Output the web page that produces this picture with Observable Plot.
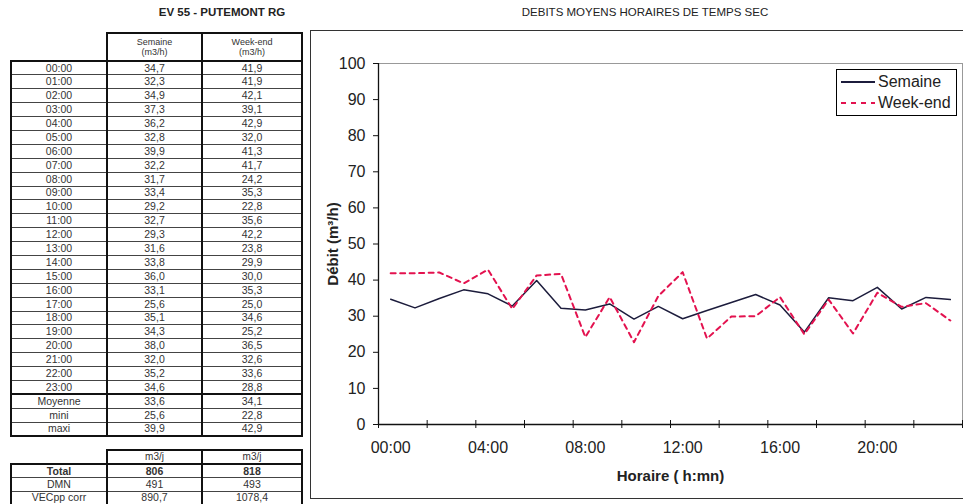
<!DOCTYPE html>
<html>
<head>
<meta charset="utf-8">
<script src="https://cdn.jsdelivr.net/npm/d3@7"></script>
<script src="https://cdn.jsdelivr.net/npm/@observablehq/plot@0.6"></script>
<style>
  html, body { margin: 0; padding: 0; background: #fff; }
  body { width: 963px; height: 504px; position: relative; overflow: hidden; font-family: "Liberation Sans", Arial, sans-serif; color: #222; }
  .title { position: absolute; white-space: nowrap; transform: translateX(-50%); }
  #t1title { left: 222px; top: 6px; font-weight: bold; font-size: 11.5px; }
  #ctitle { left: 645px; top: 6px; font-size: 11.5px; }
  table { position: absolute; border-collapse: collapse; table-layout: fixed; font-size: 10.5px; color: #333; }
  td, th { padding: 0; text-align: center; line-height: 11px; overflow: hidden; white-space: nowrap; }
  th { font-weight: normal; font-size: 9px; line-height: 10px; border: 2px solid #111; }
  th.blank { border-top: none; border-left: none; border-right: 2px solid #111; }
  tbody { border: 2px solid #111; }
  tbody td { border-top: 1px solid #444; border-bottom: 1px solid #444; border-left: 2px solid #111; border-right: 2px solid #111; }
  #t1 thead tr { height: 28px; }
  #t1 tbody tr { height: 13.9px; }
  #t1 tr.sep td { border-top: 2px solid #111; }
  #t2 thead tr { height: 14px; }
  #t2 th { font-size: 10px; }
  #t2 tbody tr { height: 13.7px; }
  #t2 tr.bold td { font-weight: bold; }
  #frame { position: absolute; left: 310px; top: 30px; width: 700px; height: 467px; border: 1px solid #333; border-right: none; }
  #chart { position: absolute; left: 311px; top: 31px; }
  #legend { position: absolute; left: 836px; top: 69px; width: 119px; height: 45px; border: 1px solid #000; background: #fff; font-size: 16px; color: #222; }
  #legend .row { position: absolute; left: 3px; height: 20px; display: flex; align-items: center; }
  #legend svg { margin-right: 2px; }
</style>
</head>
<body>
<div class="title" id="t1title">EV 55 - PUTEMONT RG</div>
<div class="title" id="ctitle">DEBITS MOYENS HORAIRES DE TEMPS SEC</div>

<table id="t1" style="left:10px; top:32px; width:293px;">
  <colgroup><col style="width:96px"><col style="width:95px"><col style="width:100px"></colgroup>
  <thead><tr><th class="blank"></th><th>Semaine<br>(m3/h)</th><th>Week-end<br>(m3/h)</th></tr></thead>
  <tbody></tbody>
</table>

<table id="t2" style="left:10px; top:449px; width:293px;">
  <colgroup><col style="width:96px"><col style="width:95px"><col style="width:100px"></colgroup>
  <thead><tr><th class="blank"></th><th></th><th></th></tr></thead>
  <tbody></tbody>
</table>

<div id="frame"></div>
<div id="chart"></div>
<div id="legend"></div>

<script>
// ---------- data ----------
const hours = ["00:00","01:00","02:00","03:00","04:00","05:00","06:00","07:00","08:00","09:00","10:00","11:00",
               "12:00","13:00","14:00","15:00","16:00","17:00","18:00","19:00","20:00","21:00","22:00","23:00"];
const semaine = [34.7,32.3,34.9,37.3,36.2,32.8,39.9,32.2,31.7,33.4,29.2,32.7,29.3,31.6,33.8,36.0,33.1,25.6,35.1,34.3,38.0,32.0,35.2,34.6];
const weekend = [41.9,41.9,42.1,39.1,42.9,32.0,41.3,41.7,24.2,35.3,22.8,35.6,42.2,23.8,29.9,30.0,35.3,25.0,34.6,25.2,36.5,32.6,33.6,28.8];
const statLabels = ["Moyenne","mini","maxi"];
const semaineStats = ["33,6","25,6","39,9"];
const weekendStats = ["34,1","22,8","42,9"];
const dailyUnit = "m3/j";
const dailyLabels = ["Total","DMN","VECpp corr"];
const semaineDaily = ["806","491","890,7"];
const weekendDaily = ["818","493","1078,4"];
const xTickLabels = ["00:00","04:00","08:00","12:00","16:00","20:00"];
const seriesNames = ["Semaine","Week-end"];
const colors = {"Semaine": "#1c1c3c", "Week-end": "#e3124f"};

const fmt = v => v.toFixed(1).replace(".", ",");

// ---------- tables ----------
const tb1 = d3.select("#t1 tbody");
hours.forEach((h, i) => {
  const tr = tb1.append("tr");
  tr.append("td").text(h);
  tr.append("td").text(fmt(semaine[i]));
  tr.append("td").text(fmt(weekend[i]));
});
statLabels.forEach((s, i) => {
  const tr = tb1.append("tr").classed("sep", i === 0);
  tr.append("td").text(s);
  tr.append("td").text(semaineStats[i]);
  tr.append("td").text(weekendStats[i]);
});
d3.selectAll("#t2 thead th:not(.blank)").text(dailyUnit);
const tb2 = d3.select("#t2 tbody");
dailyLabels.forEach((s, i) => {
  const tr = tb2.append("tr").classed("bold", i === 0);
  tr.append("td").text(s);
  tr.append("td").text(semaineDaily[i]);
  tr.append("td").text(weekendDaily[i]);
});

// ---------- chart ----------
const rows = [];
hours.forEach((h, i) => {
  rows.push({i, series: "Semaine", v: semaine[i]});
  rows.push({i, series: "Week-end", v: weekend[i]});
});
const tickPos = d3.range(-0.5, 24, 2);
const labelIdx = xTickLabels.map(l => hours.indexOf(l));

const chart = Plot.plot({
  width: 652, height: 473,
  marginLeft: 67, marginRight: 1, marginTop: 32, marginBottom: 80,
  x: {domain: [-0.5, 23.5]},
  y: {domain: [0, 100]},
  style: {fontFamily: "Liberation Sans, Arial, sans-serif", fontSize: "16px", color: "#222", background: "transparent", overflow: "visible"},
  marks: [
    Plot.frame({stroke: "#999"}),
    Plot.axisY({ticks: d3.range(0, 101, 10), tickSize: 5, tickPadding: 8, fontSize: 16, label: null, stroke: "#111"}),
    Plot.axisX({ticks: tickPos, tickSize: 8, dy: -4, tickFormat: () => "", label: null, stroke: "#111"}),
    Plot.axisX({ticks: labelIdx, tickSize: 0, tickPadding: 17, tickFormat: i => hours[i], fontSize: 16, label: null}),
    Plot.ruleX([-0.5], {stroke: "#111", strokeWidth: 1.3}),
    Plot.ruleY([0], {stroke: "#111", strokeWidth: 1.3}),
    Plot.line(rows.filter(d => d.series === "Semaine"), {x: "i", y: "v", stroke: colors["Semaine"], strokeWidth: 1.5}),
    Plot.line(rows.filter(d => d.series === "Week-end"), {x: "i", y: "v", stroke: colors["Week-end"], strokeWidth: 2, strokeDasharray: "5,4.5"}),
    Plot.text(["Débit (m³/h)"], {frameAnchor: "left", textAnchor: "middle", lineAnchor: "middle", rotate: -90, dx: -45, fontWeight: "bold", fontSize: 15, fill: "#222"}),
    Plot.text(["Horaire ( h:mn)"], {frameAnchor: "bottom", textAnchor: "middle", lineAnchor: "middle", dy: 52, fontWeight: "bold", fontSize: 15, fill: "#222"})
  ]
});
document.getElementById("chart").append(chart);

// ---------- legend ----------
const lg = d3.select("#legend");
seriesNames.forEach((name, k) => {
  const row = lg.append("div").attr("class", "row").style("top", (2 + k * 21) + "px");
  const svg = row.append("svg").attr("width", 36).attr("height", 10);
  svg.append("line").attr("x1", 1).attr("x2", 35).attr("y1", 5).attr("y2", 5)
    .attr("stroke", colors[name]).attr("stroke-width", 2)
    .attr("stroke-dasharray", name === "Week-end" ? "5,5" : null);
  row.append("span").text(name);
});
</script>
</body>
</html>
